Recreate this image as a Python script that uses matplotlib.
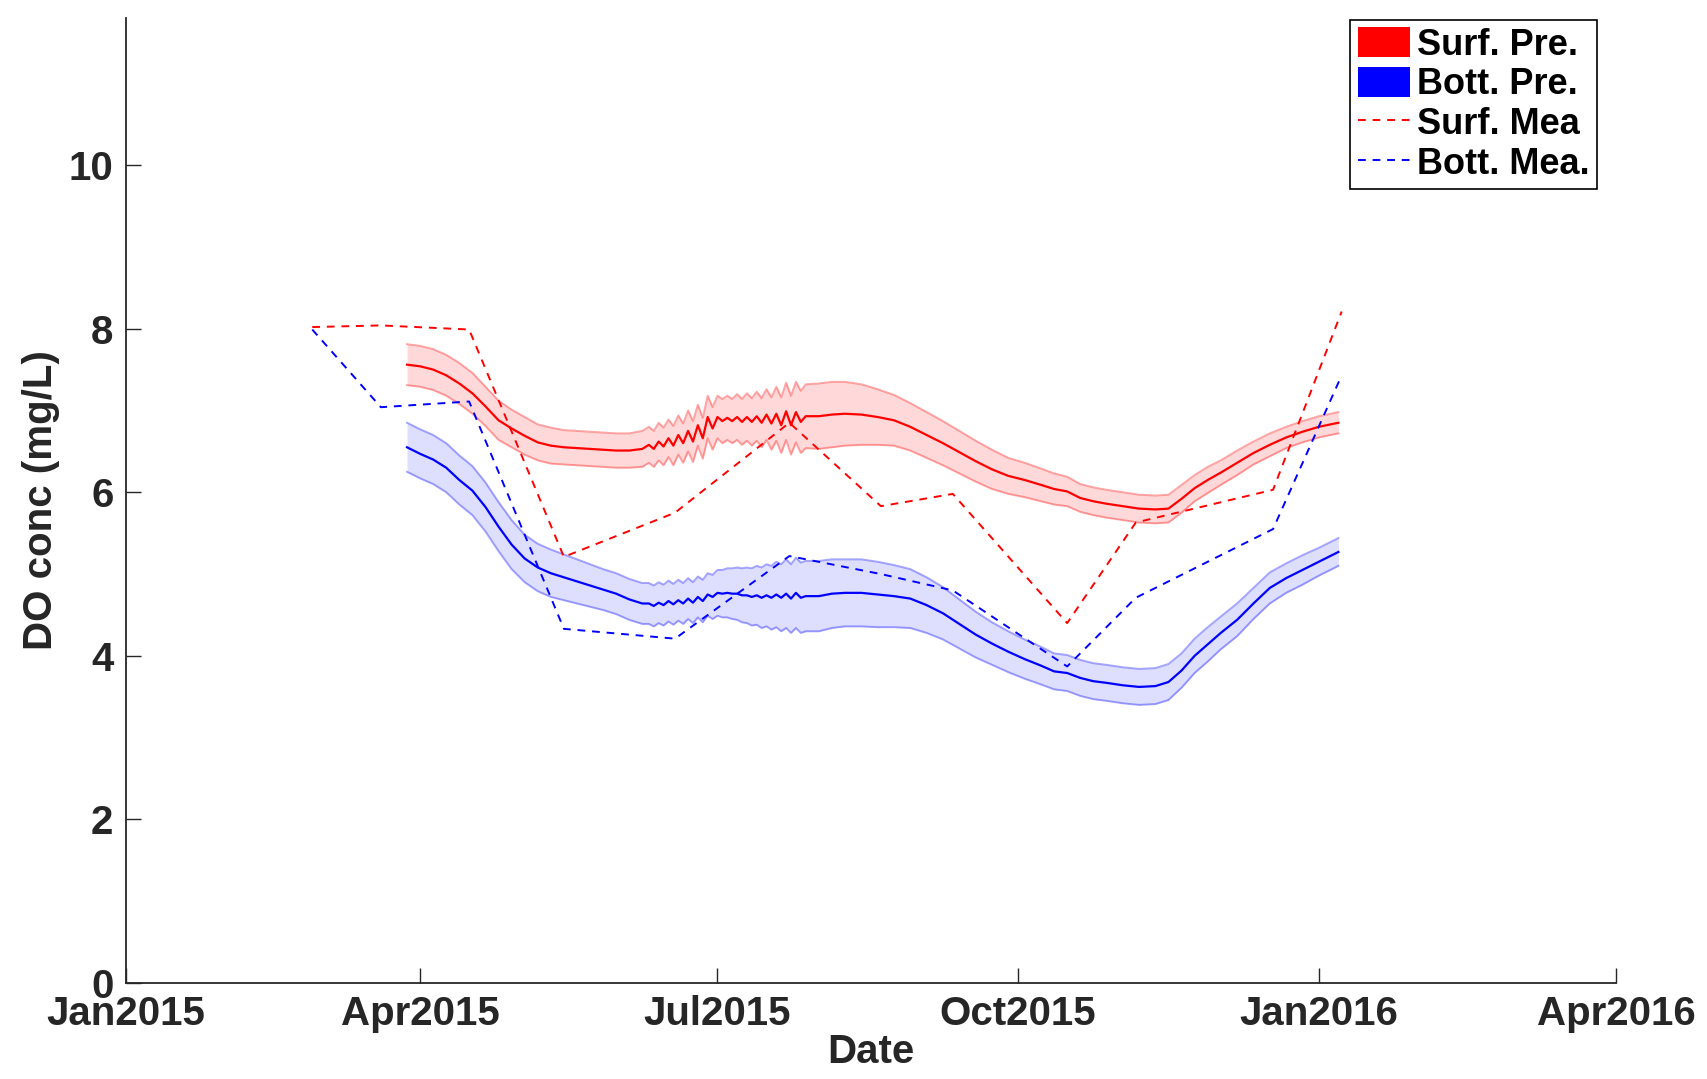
import matplotlib
matplotlib.use('Agg')
import matplotlib.pyplot as plt
import matplotlib.dates as mdates
from matplotlib.patches import Patch
from matplotlib.lines import Line2D
import numpy as np
import pandas as pd

plt.rcParams['font.family'] = ['Liberation Sans', 'DejaVu Sans']
plt.rcParams['font.weight'] = 'bold'

start = pd.Timestamp('2015-01-01')

# model output: days since 1 Jan 2015
pred_days = [86, 90, 94, 98, 102, 106, 110, 114, 118, 122, 126, 130, 134, 138, 142, 146, 150, 154, 158,
             160, 161.5, 163, 164.5, 166, 167.5, 169, 170.5, 172, 173.5, 175, 176.5, 178, 179.5, 181, 182.5,
             184, 185.5, 187, 188.5, 190, 191.5, 193, 194.5, 196, 197.5, 199, 200.5, 202, 203.5, 205, 206.5, 208,
             212, 216, 220, 225, 230, 235, 240, 245, 250, 255, 260, 265, 270, 275, 280, 284, 288, 292, 296,
             300, 305, 310, 315, 319, 323, 327, 331, 335, 340, 345, 350, 355, 360, 365, 371]

surf_pre = [7.56, 7.54, 7.50, 7.43, 7.33, 7.21, 7.05, 6.88, 6.78, 6.69, 6.61, 6.57, 6.55, 6.54, 6.53, 6.52, 6.51, 6.51, 6.53,
            6.58, 6.53, 6.62, 6.56, 6.66, 6.57, 6.70, 6.60, 6.75, 6.62, 6.82, 6.66, 6.92, 6.78, 6.92, 6.87,
            6.91, 6.87, 6.92, 6.86, 6.92, 6.86, 6.93, 6.85, 6.95, 6.84, 6.96, 6.82, 6.99, 6.82, 6.98, 6.86, 6.93,
            6.93, 6.95, 6.96, 6.95, 6.92, 6.88, 6.80, 6.70, 6.60, 6.49, 6.38, 6.28, 6.20, 6.15, 6.09, 6.04, 6.01, 5.93, 5.89,
            5.86, 5.83, 5.80, 5.79, 5.80, 5.92, 6.05, 6.15, 6.24, 6.36, 6.48, 6.58, 6.67, 6.74, 6.80, 6.85]
surf_spread = [.25, .25, .25, .25, .25, .25, .24, .24, .23, .23, .22, .22, .21, .21, .21, .21, .21, .21, .22,
               .22, .22, .23, .23, .23, .24, .24, .24, .25, .25, .25, .25, .26, .26, .26, .27,
               .27, .27, .28, .28, .29, .29, .30, .30, .31, .32, .33, .34, .35, .36, .37, .38, .39,
               .40, .40, .39, .37, .34, .31, .29, .28, .27, .26, .25, .24, .22, .21, .20, .19, .18, .17, .17,
               .17, .17, .17, .17, .17, .17, .16, .16, .15, .15, .14, .14, .13, .13, .13, .13]

bott_pre = [6.55, 6.47, 6.40, 6.30, 6.15, 6.02, 5.82, 5.58, 5.36, 5.19, 5.08, 5.01, 4.96, 4.91, 4.86, 4.81, 4.76, 4.69, 4.64,
            4.64, 4.61, 4.65, 4.62, 4.67, 4.63, 4.68, 4.64, 4.70, 4.65, 4.72, 4.67, 4.75, 4.72, 4.77, 4.76,
            4.77, 4.76, 4.76, 4.74, 4.74, 4.72, 4.74, 4.71, 4.74, 4.71, 4.75, 4.71, 4.76, 4.70, 4.77, 4.71, 4.73,
            4.73, 4.76, 4.77, 4.77, 4.75, 4.73, 4.70, 4.62, 4.52, 4.39, 4.26, 4.15, 4.05, 3.96, 3.88, 3.81, 3.79, 3.73, 3.69,
            3.67, 3.64, 3.62, 3.63, 3.68, 3.82, 4.00, 4.14, 4.28, 4.44, 4.64, 4.83, 4.95, 5.05, 5.15, 5.27]
bott_spread = [.30, .30, .30, .30, .30, .30, .30, .30, .30, .29, .29, .29, .28, .27, .26, .25, .25, .25, .25,
               .25, .25, .25, .25, .25, .25, .25, .25, .25, .25, .25, .26, .26, .27, .28, .29,
               .30, .31, .32, .33, .34, .35, .36, .37, .38, .39, .40, .41, .42, .42, .43, .43, .43,
               .43, .42, .41, .41, .40, .38, .36, .34, .32, .30, .28, .26, .25, .24, .23, .22, .22, .22, .22,
               .22, .22, .22, .22, .22, .21, .21, .21, .20, .20, .19, .19, .18, .18, .17, .17]

# measurements
mea_days = [57, 78, 105, 134, 168, 203, 231, 253, 288, 309, 351, 372]
surf_mea = [8.02, 8.04, 7.99, 5.21, 5.75, 6.85, 5.83, 5.98, 4.40, 5.63, 6.03, 8.21]
bott_mea = [7.99, 7.04, 7.11, 4.33, 4.21, 5.22, 5.00, 4.80, 3.87, 4.71, 5.55, 7.43]

t_pre = start + pd.to_timedelta(pred_days, unit='D')
t_mea = start + pd.to_timedelta(mea_days, unit='D')
surf_pre = np.array(surf_pre)
bott_pre = np.array(bott_pre)
surf_spread = np.array(surf_spread)
bott_spread = np.array(bott_spread)

fig = plt.figure(figsize=(17.07, 10.79), dpi=100)
ax = fig.add_axes([0.0738, 0.089, 0.873, 0.8944])

# bands
ax.fill_between(t_pre, surf_pre - surf_spread, surf_pre + surf_spread, color='#ff0000', alpha=0.15, lw=0)
ax.plot(t_pre, surf_pre + surf_spread, color='#ff0000', alpha=0.35, lw=1.4)
ax.plot(t_pre, surf_pre - surf_spread, color='#ff0000', alpha=0.35, lw=1.4)
ax.fill_between(t_pre, bott_pre - bott_spread, bott_pre + bott_spread, color='#0000ff', alpha=0.13, lw=0)
ax.plot(t_pre, bott_pre + bott_spread, color='#0000ff', alpha=0.35, lw=1.4)
ax.plot(t_pre, bott_pre - bott_spread, color='#0000ff', alpha=0.35, lw=1.4)
ax.plot(t_pre, surf_pre, color='#ff0000', lw=1.6)
ax.plot(t_pre, bott_pre, color='#0000ff', lw=1.6)

# measured
ax.plot(t_mea, surf_mea, color='#ff0000', lw=1.4, dashes=(4, 3.5))
ax.plot(t_mea, bott_mea, color='#0000ff', lw=1.4, dashes=(4, 3.5))

ax.set_xlim(pd.Timestamp('2015-01-01'), pd.Timestamp('2016-04-01'))
ax.set_ylim(0, 11.8)
ticks = pd.to_datetime(['2015-01-01', '2015-04-01', '2015-07-01', '2015-10-01', '2016-01-01', '2016-04-01'])
ax.set_xticks(ticks)
ax.xaxis.set_major_formatter(mdates.DateFormatter('%b%Y'))
ax.set_yticks([0, 2, 4, 6, 8, 10])

for s in ['top', 'right']:
    ax.spines[s].set_visible(False)
for s in ['left', 'bottom']:
    ax.spines[s].set_color('#262626')
    ax.spines[s].set_linewidth(1.3)

ax.tick_params(axis='both', direction='in', length=11, width=1.0, color='#262626',
               labelsize=29, labelcolor='#262626')
ax.tick_params(axis='x', pad=9)
ax.tick_params(axis='y', pad=9)
for lab in ax.get_xticklabels() + ax.get_yticklabels():
    lab.set_fontweight('bold')

ax.set_xlabel('Date', fontsize=29, fontweight='bold', color='#262626', labelpad=0)
ax.set_ylabel('DO conc (mg/L)', fontsize=29, fontweight='bold', color='#262626', labelpad=6)

handles = [Patch(facecolor='#ff0000', edgecolor='none'),
           Patch(facecolor='#0000ff', edgecolor='none'),
           Line2D([], [], color='#ff0000', lw=1.4, dashes=(4, 3.5)),
           Line2D([], [], color='#0000ff', lw=1.4, dashes=(4, 3.5))]
labels = ['Surf. Pre.', 'Bott. Pre.', 'Surf. Mea', 'Bott. Mea.']
leg = fig.legend(handles, labels, loc='upper right', bbox_to_anchor=(0.9356, 0.9815),
                 prop={'size': 26, 'weight': 'bold'}, frameon=True, fancybox=False,
                 edgecolor='black', framealpha=1, borderpad=0.2, labelspacing=0.12,
                 handlelength=1.45, handleheight=0.9, handletextpad=0.2, borderaxespad=0)
leg.get_frame().set_linewidth(1.2)

fig.savefig('out.png', dpi=100)
